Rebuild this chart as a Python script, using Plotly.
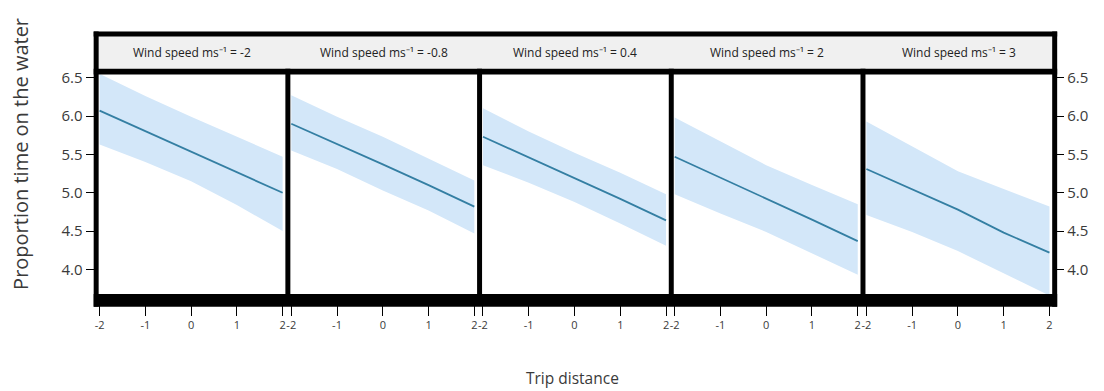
import plotly.graph_objects as go

# Model predictions: proportion of time on the water vs trip distance,
# one panel per wind-speed level (fitted line with confidence band)
trip_distance = [-2, -1, 0, 1, 2]
wind_speeds = ["-2", "-0.8", "0.4", "2", "3"]

fit_ws_m2 = [6.07, 5.80, 5.54, 5.27, 5.00]
upper_ws_m2 = [6.55, 6.26, 5.99, 5.73, 5.47]
lower_ws_m2 = [5.63, 5.40, 5.15, 4.84, 4.50]

fit_ws_m08 = [5.90, 5.64, 5.37, 5.10, 4.82]
upper_ws_m08 = [6.27, 5.99, 5.73, 5.45, 5.16]
lower_ws_m08 = [5.55, 5.31, 5.03, 4.77, 4.47]

fit_ws_04 = [5.73, 5.46, 5.20, 4.92, 4.64]
upper_ws_04 = [6.10, 5.80, 5.52, 5.26, 4.98]
lower_ws_04 = [5.36, 5.13, 4.88, 4.60, 4.31]

fit_ws_2 = [5.47, 5.20, 4.93, 4.65, 4.37]
upper_ws_2 = [5.98, 5.67, 5.36, 5.10, 4.85]
lower_ws_2 = [4.98, 4.73, 4.49, 4.21, 3.93]

fit_ws_3 = [5.31, 5.05, 4.78, 4.48, 4.22]
upper_ws_3 = [5.93, 5.60, 5.28, 5.05, 4.82]
lower_ws_3 = [4.71, 4.49, 4.24, 3.95, 3.66]

y_ticks = [4.0, 4.5, 5.0, 5.5, 6.0, 6.5]
x_ticks = [-2, -1, 0, 1, 2]

fits = [fit_ws_m2, fit_ws_m08, fit_ws_04, fit_ws_2, fit_ws_3]
uppers = [upper_ws_m2, upper_ws_m08, upper_ws_04, upper_ws_2, upper_ws_3]
lowers = [lower_ws_m2, lower_ws_m08, lower_ws_04, lower_ws_2, lower_ws_3]

W, H = 1104, 391
FONT = "Open Sans"
LINE_COL = "#347fa3"
BAND_COL = "#d3e7f9"
TEXT_COL = "#3a3a3a"


def px(x):
    return x / W


def py(y):
    return 1 - y / H


# panel geometry (pixels)
frame_l, frame_r = 90, 1057
inner_l, inner_r = 95, 1052
frame_top, strip_bot, strip_line_bot = 24, 62, 68
panel_top, panel_bot, bar_bot = 68, 292, 305
div_w = 5
n = len(wind_speeds)
panel_w = (inner_r - inner_l - div_w * (n - 1)) / n

fig = go.Figure()
layout_axes = {}
shapes = []
annotations = []

for i in range(n):
    left = inner_l + i * (panel_w + div_w)
    right = left + panel_w
    xa = "x" if i == 0 else f"x{i + 1}"
    ya = "y" if i == 0 else f"y{i + 1}"

    fig.add_trace(go.Scatter(
        x=trip_distance + trip_distance[::-1],
        y=uppers[i] + lowers[i][::-1],
        fill="toself", fillcolor=BAND_COL, line=dict(width=0),
        mode="lines", hoverinfo="skip", showlegend=False,
        xaxis=xa, yaxis=ya,
    ))
    fig.add_trace(go.Scatter(
        x=trip_distance, y=fits[i], mode="lines",
        line=dict(color=LINE_COL, width=1.8), showlegend=False,
        xaxis=xa, yaxis=ya,
    ))

    xkey = "xaxis" if i == 0 else f"xaxis{i + 1}"
    ykey = "yaxis" if i == 0 else f"yaxis{i + 1}"
    layout_axes[xkey] = dict(
        domain=[px(left), px(right)], anchor=ya, range=[-2.02, 2.06],
        tickvals=x_ticks, ticktext=[str(v) for v in x_ticks],
        ticks="outside", ticklen=21, tickwidth=1, tickcolor="#000",
        showgrid=False, zeroline=False, showline=False,
        tickfont=dict(family=FONT, size=11, color=TEXT_COL),
    )
    yax = dict(
        domain=[py(panel_bot), py(panel_top)], anchor=xa,
        range=[3.68, 6.54], showgrid=False, zeroline=False, showline=False,
        tickvals=y_ticks, ticktext=[f"{v:.1f}" for v in y_ticks],
        tickfont=dict(family=FONT, size=15, color=TEXT_COL),
        tickwidth=1, tickcolor="#000",
    )
    if i == 0:
        yax.update(ticks="outside", ticklen=12, side="left")
    elif i == n - 1:
        yax.update(ticks="outside", ticklen=11, side="right")
    else:
        yax.update(showticklabels=False, ticks="")
    layout_axes[ykey] = yax

    # panel strip label
    annotations.append(dict(
        x=px((left + right) / 2), y=py(45), xref="paper", yref="paper",
        text=f"Wind speed ms\u207b\u00b9 = {wind_speeds[i]}",
        showarrow=False, xanchor="center", yanchor="middle",
        font=dict(family=FONT, size=12, color="#222"),
    ))

    # divider between panels
    if i < n - 1:
        shapes.append(dict(
            type="rect", xref="paper", yref="paper", layer="above",
            x0=px(right), x1=px(right + div_w), y0=py(panel_bot), y1=py(strip_bot),
            fillcolor="#000", line=dict(width=0),
        ))

# strip background
shapes.insert(0, dict(
    type="rect", xref="paper", yref="paper", layer="below",
    x0=px(frame_l), x1=px(frame_r), y0=py(strip_bot), y1=py(frame_top),
    fillcolor="#f0f0f0", line=dict(width=0),
))
# heavy frame pieces
frame_rects = [
    (frame_l, frame_r, frame_top, frame_top + 5),          # top
    (frame_l, frame_l + 5, frame_top, bar_bot),            # left
    (frame_r - 5, frame_r, frame_top, bar_bot),            # right
    (frame_l, frame_r, strip_bot, strip_line_bot),         # under strip
    (frame_l, frame_r, panel_bot, bar_bot),                # bottom bar
]
for x0, x1, y0, y1 in frame_rects:
    shapes.append(dict(
        type="rect", xref="paper", yref="paper", layer="above",
        x0=px(x0), x1=px(x1), y0=py(y1), y1=py(y0),
        fillcolor="#000", line=dict(width=0),
    ))

# axis titles
annotations.append(dict(
    x=px(17), y=py(149), xref="paper", yref="paper", textangle=-90,
    text="Proportion time on the water", showarrow=False,
    xanchor="center", yanchor="middle",
    font=dict(family=FONT, size=20, color=TEXT_COL),
))
annotations.append(dict(
    x=px(571), y=py(378), xref="paper", yref="paper",
    text="Trip distance", showarrow=False,
    xanchor="center", yanchor="middle",
    font=dict(family=FONT, size=15.5, color=TEXT_COL),
))

fig.update_layout(
    width=W, height=H,
    margin=dict(l=0, r=0, t=0, b=0),
    paper_bgcolor="white", plot_bgcolor="white",
    shapes=shapes, annotations=annotations,
    **layout_axes,
)

fig.write_html("out.html")
